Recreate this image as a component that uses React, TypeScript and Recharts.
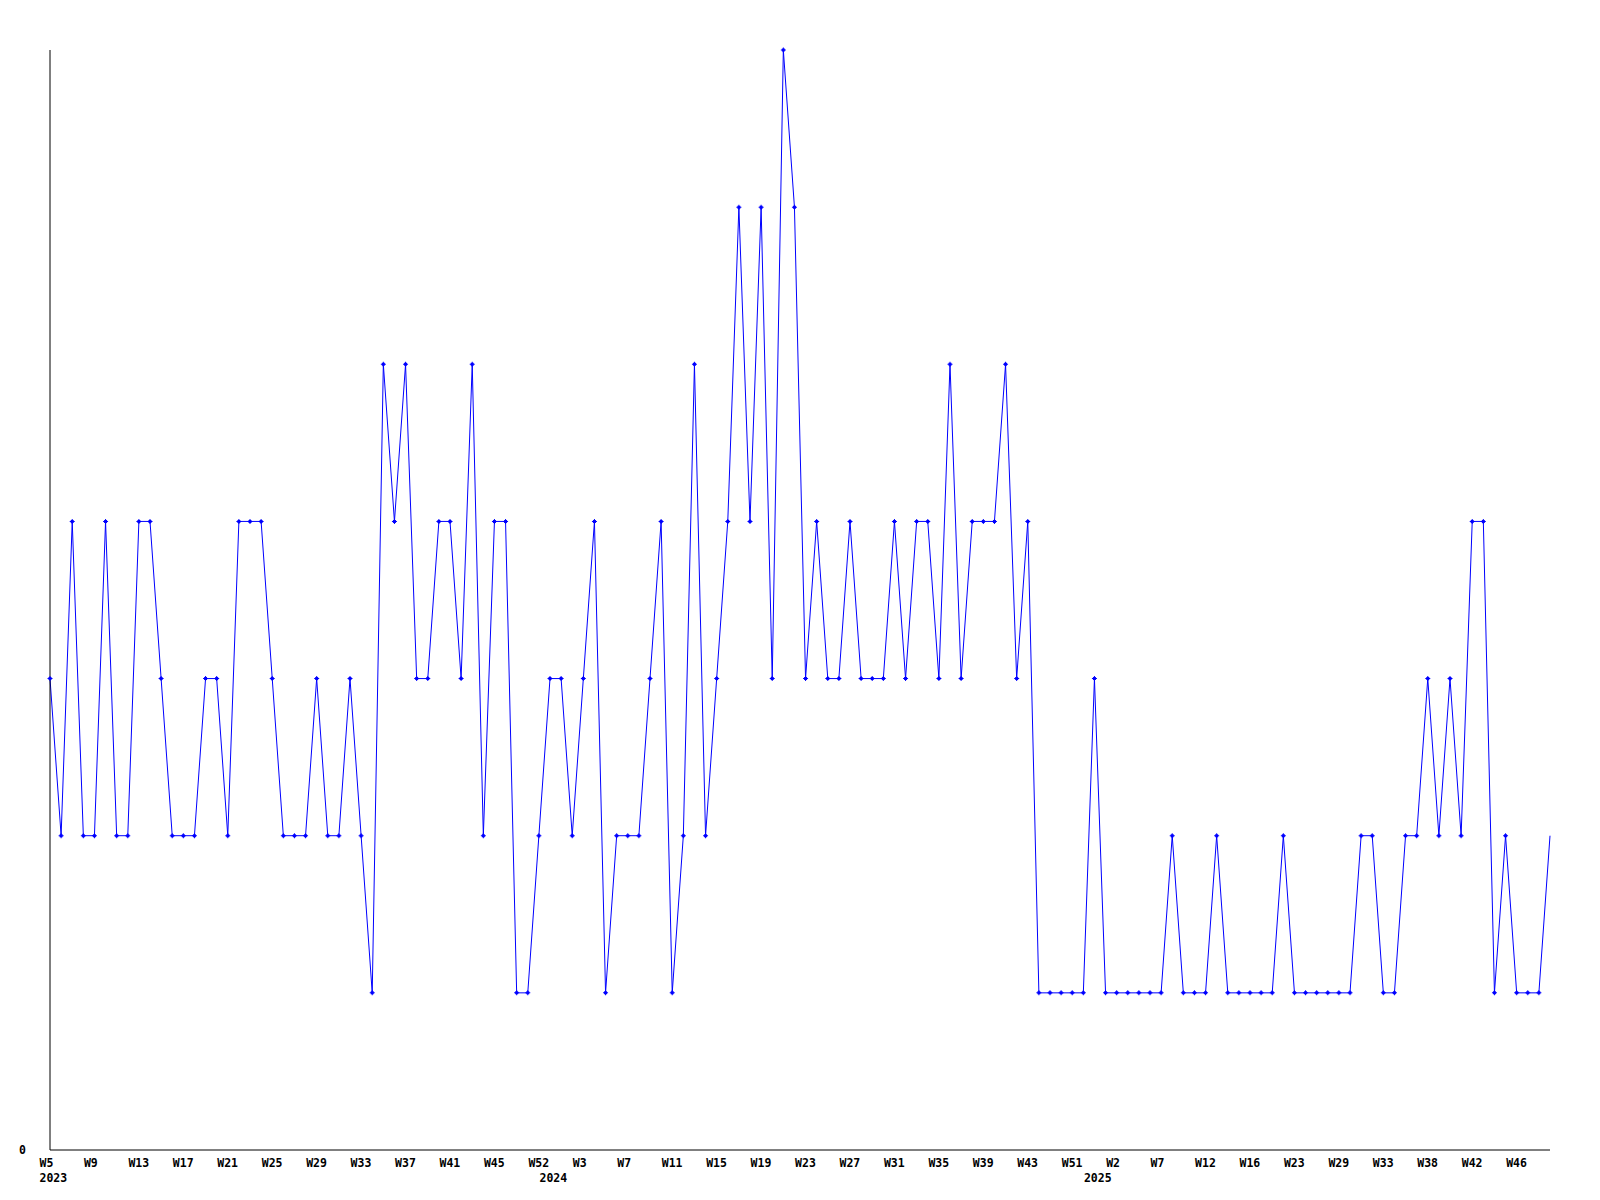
import React from 'react';
import { LineChart, Line, XAxis, YAxis } from 'recharts';

const weeks2023 = [
  'W5', 'W6', 'W7', 'W8', 'W9', 'W10', 'W11', 'W12', 'W13', 'W14',
  'W15', 'W16', 'W17', 'W18', 'W19', 'W20', 'W21', 'W22', 'W23', 'W24',
  'W25', 'W26', 'W27', 'W28', 'W29', 'W30', 'W31', 'W32', 'W33', 'W34',
  'W35', 'W36', 'W37', 'W38', 'W39', 'W40', 'W41', 'W42', 'W43', 'W44',
  'W45', 'W46', 'W48', 'W50', 'W52',
];
const values2023 = [
  3, 2, 4, 2, 2, 4, 2, 2, 4, 4,
  3, 2, 2, 2, 3, 3, 2, 4, 4, 4,
  3, 2, 2, 2, 3, 2, 2, 3, 2, 1,
  5, 4, 5, 3, 3, 4, 4, 3, 5, 2,
  4, 4, 1, 1, 2,
];

const weeks2024 = [
  'W0', 'W1', 'W2', 'W3', 'W4',
  'W5', 'W6', 'W7', 'W8', 'W9', 'W10', 'W11', 'W12', 'W13', 'W14',
  'W15', 'W16', 'W17', 'W18', 'W19', 'W20', 'W21', 'W22', 'W23', 'W24',
  'W25', 'W26', 'W27', 'W28', 'W29', 'W30', 'W31', 'W32', 'W33', 'W34',
  'W35', 'W36', 'W37', 'W38', 'W39', 'W40', 'W41', 'W42', 'W43', 'W45',
  'W47', 'W49', 'W51', 'W52',
];
const values2024 = [
  3, 3, 2, 3, 4,
  1, 2, 2, 2, 3, 4, 1, 2, 5, 2,
  3, 4, 6, 4, 6, 3, 7, 6, 3, 4,
  3, 3, 4, 3, 3, 3, 4, 3, 4, 4,
  3, 5, 3, 4, 4, 4, 5, 3, 4, 1,
  1, 1, 1, 1,
];

const weeks2025 = [
  'W0', 'W1', 'W2', 'W3', 'W5', 'W6',
  'W7', 'W8', 'W9', 'W11', 'W12', 'W13', 'W14', 'W15', 'W16', 'W18',
  'W20', 'W21', 'W23', 'W24', 'W26', 'W27', 'W29', 'W30', 'W31', 'W32',
  'W33', 'W34', 'W36', 'W37', 'W38', 'W39', 'W40', 'W41', 'W42', 'W43',
  'W44', 'W45', 'W46', 'W47', 'W48', 'W49',
];
const values2025 = [
  3, 1, 1, 1, 1, 1,
  1, 2, 1, 1, 1, 2, 1, 1, 1, 1,
  1, 2, 1, 1, 1, 1, 1, 1, 2, 2,
  1, 1, 2, 2, 3, 2, 3, 2, 4, 4,
  1, 2, 1, 1, 1, 2,
];

const yTicks = [0];
const yDomain = [0, 7];

type Row = { key: string; year: string; week: string; value: number };

const build = (year: string, weeks: string[], values: number[]): Row[] =>
  weeks.map((w, i) => ({ key: `${year}-${w}`, year, week: w, value: values[i] }));

const data: Row[] = [
  ...build('2023', weeks2023, values2023),
  ...build('2024', weeks2024, values2024),
  ...build('2025', weeks2025, values2025),
];

const FONT = '"DejaVu Sans Mono", "Liberation Mono", monospace';
const BLUE = '#0000ff';

const XTick = (props: any) => {
  const { x, y, payload } = props;
  const i: number = payload && payload.index != null ? payload.index : props.index;
  const d = data[i];
  if (!d) return <g />;
  const showWeek = i % 4 === 0;
  const showYear = i === 0 || data[i - 1].year !== d.year;
  return (
    <g>
      {showWeek && (
        <text x={x - 10.5} y={y + 16.5} textAnchor="start" fontFamily={FONT} fontWeight="bold" fontSize={11.5} fill="#000">
          {d.week}
        </text>
      )}
      {showYear && (
        <text x={x - 10.5} y={y + 31.5} textAnchor="start" fontFamily={FONT} fontWeight="bold" fontSize={11.5} fill="#000">
          {d.year}
        </text>
      )}
    </g>
  );
};

const YTick = (props: any) => {
  const { x, y, payload } = props;
  return (
    <text x={x} y={y + 3.5} textAnchor="end" fontFamily={FONT} fontWeight="bold" fontSize={11.5} fill="#000">
      {payload.value}
    </text>
  );
};

const PlusDot = (props: any) => {
  const { cx, cy, index } = props;
  if (cx == null || cy == null || index === data.length - 1) return <g />;
  const d = `M${cx - 2.5},${cy - 0.5}h5v1h-5z M${cx - 0.5},${cy - 2.5}h1v5h-1z M${cx - 1.5},${cy - 1.5}h3v3h-3z`;
  return <path d={d} fill={BLUE} stroke="none" />;
};

export default function App() {
  return (
    <div style={{ position: 'absolute', left: 0, top: 0, width: 1600, height: 1200, background: '#fff' }}>
      <LineChart
        width={1600}
        height={1200}
        data={data}
        margin={{ top: 50, right: 50, bottom: 0, left: 0 }}
      >
        <XAxis
          dataKey="key"
          type="category"
          interval={0}
          height={50}
          padding={{ left: 0, right: 0 }}
          tickLine={false}
          tickSize={0}
          tickMargin={0}
          axisLine={{ stroke: '#000', strokeWidth: 1 }}
          tick={<XTick />}
        />
        <YAxis
          type="number"
          domain={yDomain}
          ticks={yTicks}
          width={50}
          tickLine={false}
          tickSize={0}
          tickMargin={24}
          axisLine={{ stroke: '#000', strokeWidth: 1 }}
          tick={<YTick />}
        />
        <Line
          type="linear"
          dataKey="value"
          stroke={BLUE}
          strokeWidth={1}
          dot={(p: any) => <PlusDot key={`dot-${p.index}`} {...p} />}
          activeDot={false}
          isAnimationActive={false}
        />
      </LineChart>
    </div>
  );
}
